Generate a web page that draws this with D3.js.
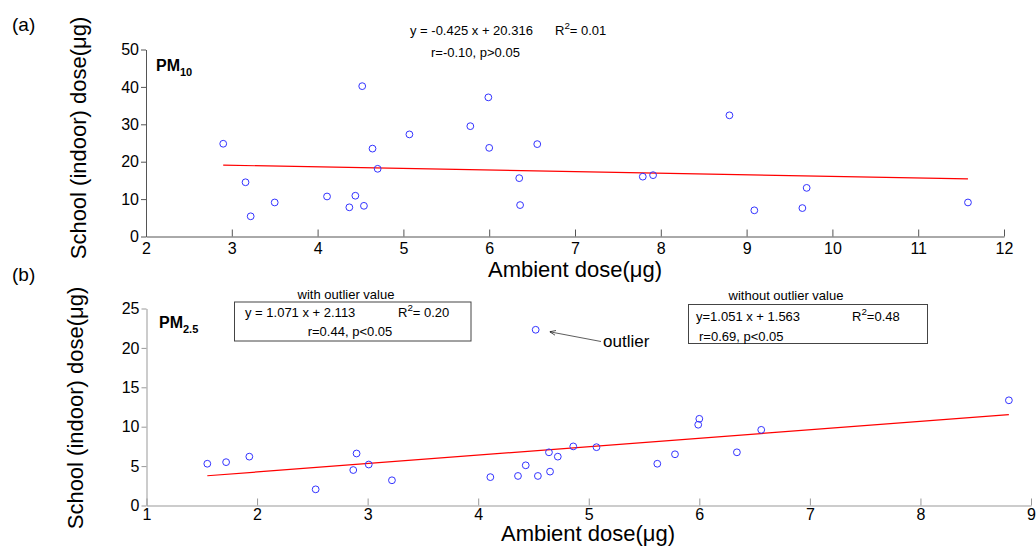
<!DOCTYPE html>
<html lang='en'>
<head>
  <meta charset='UTF-8'>
  <title>PM dose scatter</title>
  <style>
    body { margin: 0; background: #fff; }
    text { font-family: 'Liberation Sans', Arial, sans-serif; fill: #000; }
    .axis text { font-size: 16px; font-family: 'Liberation Sans', Arial, sans-serif; fill: #000; }
  </style>
</head>
<body>
  <script src='https://cdn.jsdelivr.net/npm/d3@7/dist/d3.min.js'></script>
  <script>
// 画布
const width = 1036;
const height = 547;

// (a) PM10: ambient dose vs school dose
const pm10Ambient = [2.90, 3.16, 3.22, 3.50, 4.11, 4.37, 4.44, 4.52, 4.54, 4.64, 4.70, 5.07, 5.78,
                     5.99, 6.00, 6.35, 6.36, 6.56, 7.79, 7.91, 8.80, 9.09, 9.65, 9.70, 11.58];
const pm10School  = [24.8, 14.5, 5.4, 9.1, 10.7, 7.8, 10.9, 40.2, 8.2, 23.5, 18.1, 27.3, 29.5,
                     37.2, 23.7, 15.6, 8.4, 24.7, 16.0, 16.4, 32.4, 7.0, 7.6, 13.0, 9.1];
const pm10Fit = [-0.425, 20.316];
const pm10XTicks = [2, 3, 4, 5, 6, 7, 8, 9, 10, 11, 12];
const pm10YTicks = [0, 10, 20, 30, 40, 50];

// (b) PM2.5
const pm25Ambient = [1.55, 1.72, 1.93, 2.53, 2.87, 2.90, 3.01, 3.22, 4.11, 4.36, 4.43, 4.52, 4.54,
                     4.64, 4.65, 4.72, 4.86, 5.07, 5.62, 5.78, 6.00, 5.99, 6.34, 6.56, 8.80];
const pm25School  = [5.3, 5.5, 6.2, 2.05, 4.5, 6.6, 5.2, 3.2, 3.6, 3.75, 5.1, 22.3, 3.75,
                     6.75, 4.3, 6.2, 7.5, 7.4, 5.3, 6.5, 11.0, 10.25, 6.75, 9.6, 13.35];
const pm25Fit = [1.071, 2.113];
const pm25XTicks = [1, 2, 3, 4, 5, 6, 7, 8, 9];
const pm25YTicks = [0, 5, 10, 15, 20, 25];

const svg = d3.select('body').append('svg')
    .attr('width', width)
    .attr('height', height);

function panel(cfg) {
  const x = d3.scaleLinear().domain(cfg.xDomain).range(cfg.xRange);
  const y = d3.scaleLinear().domain(cfg.yDomain).range(cfg.yRange);

  const gx = svg.append('g').attr('class', 'axis')
     .attr('transform', 'translate(0,' + cfg.yRange[0] + ')')
     .call(d3.axisBottom(x).tickValues(cfg.xTicks).tickSizeInner(-7).tickSizeOuter(0).tickPadding(cfg.xPad));
  const gy = svg.append('g').attr('class', 'axis')
     .attr('transform', 'translate(' + cfg.xRange[0] + ',0)')
     .call(d3.axisLeft(y).tickValues(cfg.yTicks).tickSizeInner(5).tickSizeOuter(0).tickPadding(2));
  [gx, gy].forEach(g => g.selectAll('path, line').attr('stroke', cfg.axisColor));

  // 回归线
  const xs = d3.extent(cfg.xs);
  svg.append('line')
     .attr('x1', x(xs[0])).attr('y1', y(cfg.fit[0] * xs[0] + cfg.fit[1]))
     .attr('x2', x(xs[1])).attr('y2', y(cfg.fit[0] * xs[1] + cfg.fit[1]))
     .attr('stroke', '#ff0000').attr('stroke-width', 1.2);

  svg.append('g').selectAll('circle')
     .data(cfg.xs.map((v, i) => [v, cfg.ys[i]]))
     .enter().append('circle')
     .attr('cx', d => x(d[0]))
     .attr('cy', d => y(d[1]))
     .attr('r', 3.4)
     .attr('fill', 'none')
     .attr('stroke', '#3333ff')
     .attr('stroke-width', 1);

  return { x, y };
}

const a = panel({ xs: pm10Ambient, ys: pm10School, fit: pm10Fit,
  xDomain: [2, 12], xRange: [146, 1004], yDomain: [0, 50], yRange: [236.5, 49.5],
  xTicks: pm10XTicks, yTicks: pm10YTicks, xPad: 6, axisColor: '#555' });

const b = panel({ xs: pm25Ambient, ys: pm25School, fit: pm25Fit,
  xDomain: [1, 9], xRange: [146.5, 1031], yDomain: [0, 25], yRange: [505.5, 308.5],
  xTicks: pm25XTicks, yTicks: pm25YTicks, xPad: 3, axisColor: '#999' });

// 文字
function txt(x, y, s, size, opts) {
  const t = svg.append('text').attr('x', x).attr('y', y).attr('font-size', size).text(s);
  if (opts && opts.anchor) t.attr('text-anchor', opts.anchor);
  if (opts && opts.bold) t.attr('font-weight', 'bold');
  return t;
}
function withSup(x, y, base, sup, rest, size) {
  const t = svg.append('text').attr('x', x).attr('y', y).attr('font-size', size);
  t.append('tspan').text(base);
  t.append('tspan').attr('dy', -6).attr('font-size', size * 0.75).text(sup);
  t.append('tspan').attr('dy', 6).text(rest);
}

txt(12, 31, '(a)', 19);
txt(12, 281, '(b)', 19);

txt(575, 277, 'Ambient dose(\u03bcg)', 22, { anchor: 'middle' });
txt(588, 541, 'Ambient dose(\u03bcg)', 22, { anchor: 'middle' });

svg.append('text').attr('transform', 'translate(86,138) rotate(-90)')
   .attr('text-anchor', 'middle').attr('font-size', 22).text('School (indoor) dose(\u03bcg)');
svg.append('text').attr('transform', 'translate(83,408) rotate(-90)')
   .attr('text-anchor', 'middle').attr('font-size', 22).text('School (indoor) dose(\u03bcg)');

// PM labels
const pm10 = svg.append('text').attr('x', 156).attr('y', 71).attr('font-size', 16).attr('font-weight', 'bold');
pm10.append('tspan').text('PM');
pm10.append('tspan').attr('dy', 5).attr('font-size', 11).text('10');
const pm25 = svg.append('text').attr('x', 159).attr('y', 328).attr('font-size', 16).attr('font-weight', 'bold');
pm25.append('tspan').text('PM');
pm25.append('tspan').attr('dy', 5).attr('font-size', 11).text('2.5');

// (a) 方程
txt(410, 35, 'y = -0.425 x + 20.316', 13);
withSup(555, 35, 'R', '2', '= 0.01', 13);
txt(431, 57, 'r=-0.10, p>0.05', 13);

// (b) with outlier
txt(346, 299, 'with outlier value', 13, { anchor: 'middle' });
svg.append('rect').attr('x', 234.5).attr('y', 302).attr('width', 236.5).attr('height', 39)
   .attr('fill', 'none').attr('stroke', '#444').attr('stroke-width', 1);
txt(245, 317, 'y = 1.071 x + 2.113', 13);
withSup(398, 317, 'R', '2', '= 0.20', 13);
txt(350, 336, 'r=0.44, p<0.05', 13, { anchor: 'middle' });

// (b) without outlier
txt(786, 300, 'without outlier value', 13, { anchor: 'middle' });
svg.append('rect').attr('x', 688.5).attr('y', 304.5).attr('width', 239).attr('height', 39)
   .attr('fill', 'none').attr('stroke', '#444').attr('stroke-width', 1);
txt(696, 321, 'y=1.051 x + 1.563', 13);
withSup(852, 321, 'R', '2', '=0.48', 13);
txt(699, 341, 'r=0.69, p<0.05', 13);

// outlier 箭头
svg.append('defs').append('marker')
   .attr('id', 'arr').attr('viewBox', '0 0 10 10').attr('refX', 10).attr('refY', 5)
   .attr('markerWidth', 8).attr('markerHeight', 8).attr('orient', 'auto')
   .append('path').attr('d', 'M0,1 L10,5 L0,9').attr('fill', 'none').attr('stroke', '#000');
svg.append('line')
   .attr('x1', 601).attr('y1', 341.5).attr('x2', b.x(4.52) + 14).attr('y2', b.y(22.3) + 2)
   .attr('stroke', '#333').attr('stroke-width', 0.8).attr('marker-end', 'url(#arr)');
txt(603, 347, 'outlier', 17);
  </script>
</body>
</html>
